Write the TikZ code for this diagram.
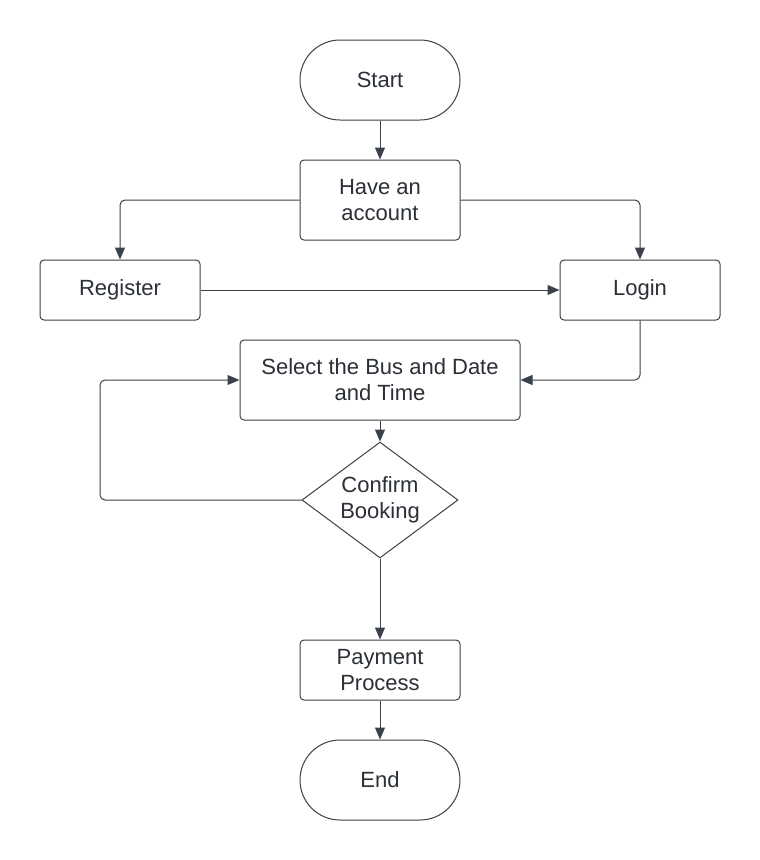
\documentclass[tikz,border=0pt]{standalone}
\usepackage{fontspec}
\setmainfont{Liberation Sans}
\usetikzlibrary{shapes.geometric,arrows.meta}
\definecolor{ln}{HTML}{3A414A}
\definecolor{tx}{HTML}{2B2F36}
\tikzset{
  box/.style={draw=ln,line width=1pt,rounded corners=4pt,align=center,text=tx,
    font=\fontsize{22}{26}\selectfont,inner sep=0pt},
  term/.style={box,rounded corners=40pt,minimum width=160pt,minimum height=80pt},
  dia/.style={draw=ln,line width=1pt,diamond,aspect=1.34,minimum width=156pt,minimum height=116pt,
    inner sep=0pt,align=center,text=tx,font=\fontsize{22}{26}\selectfont},
  conn/.style={draw=ln,line width=1pt,rounded corners=5pt,-{Triangle[length=12pt,width=10pt]}}
}
\begin{document}
\begin{tikzpicture}[x=1pt,y=-1pt]
\useasboundingbox (0,0) rectangle (760,860);
\fill[white] (0,0) rectangle (760,860);
\node[term] (start) at (380,80) {Start};
\node[box,minimum width=160pt,minimum height=80pt] (have) at (380,200) {Have an\\account};
\node[box,minimum width=160pt,minimum height=60pt] (reg) at (120,290) {Register};
\node[box,minimum width=160pt,minimum height=60pt] (login) at (640,290) {Login};
\node[box,minimum width=280pt,minimum height=80pt] (sel) at (380,380) {Select the Bus and Date\\and Time};
\node[dia] (conf) at (380,500) {Confirm\\Booking};
\node[box,minimum width=160pt,minimum height=60pt] (pay) at (380,670) {Payment\\Process};
\node[term] (end) at (380,780) {End};
\draw[conn] (start) -- (have);
\draw[conn] (have.west) -| (reg.north);
\draw[conn] (have.east) -| (login.north);
\draw[conn] (reg) -- (login);
\draw[conn] (login.south) |- (sel.east);
\draw[conn] (sel) -- (conf);
\draw[conn] (conf.west) -- (100,500) |- (sel.west);
\draw[conn] (conf) -- (pay);
\draw[conn] (pay) -- (end);
\end{tikzpicture}
\end{document}
